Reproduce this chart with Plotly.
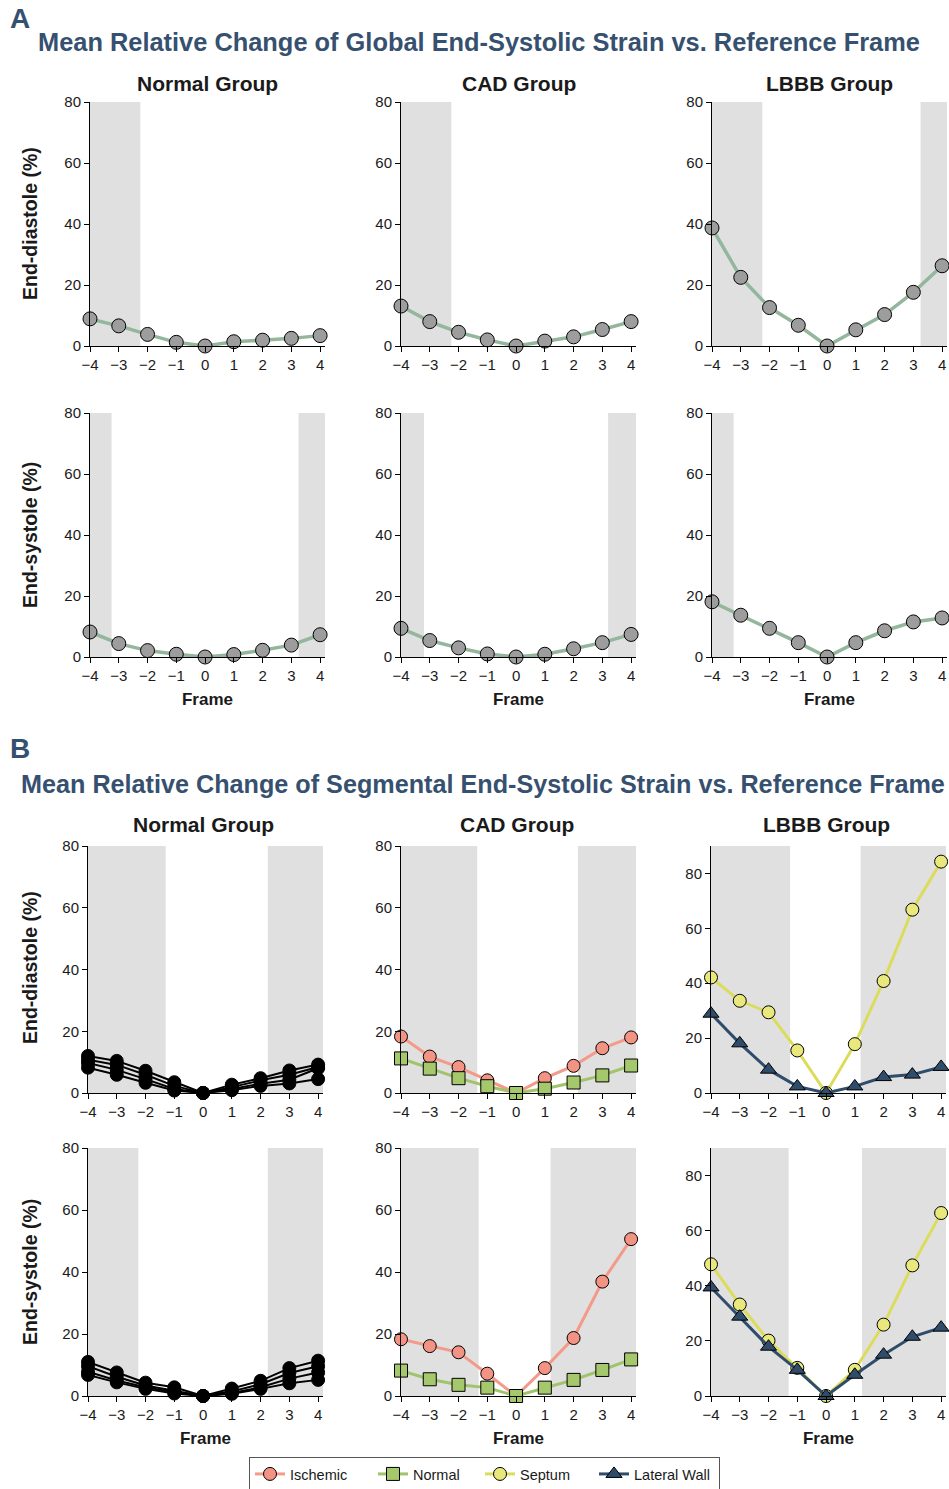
import plotly.graph_objects as go

# ---------------- data ----------------
FRAMES = [-4, -3, -2, -1, 0, 1, 2, 3, 4]
X_TICKS = [-4, -3, -2, -1, 0, 1, 2, 3, 4]
Y_TICKS = [0, 20, 40, 60, 80]
GROUPS = ["Normal Group", "CAD Group", "LBBB Group"]

# A: global strain, mean relative change (%)
A_ED_NORMAL = [8.9, 6.6, 3.8, 1.2, 0.0, 1.4, 1.9, 2.5, 3.4]
A_ED_CAD = [13.1, 8.0, 4.5, 2.0, 0.0, 1.6, 3.0, 5.4, 8.0]
A_ED_LBBB = [38.7, 22.5, 12.6, 6.8, 0.0, 5.3, 10.3, 17.6, 26.3]
A_ES_NORMAL = [8.2, 4.4, 2.1, 0.9, 0.0, 0.8, 2.2, 3.9, 7.3]
A_ES_CAD = [9.4, 5.4, 3.0, 1.0, 0.0, 0.9, 2.7, 4.7, 7.4]
A_ES_LBBB = [18.1, 13.7, 9.4, 4.7, 0.0, 4.7, 8.6, 11.5, 12.8]

# B: segmental strain, normal group (one line per segment)
B_ED_NORMAL_SEGS = [
    [12.0, 10.4, 7.2, 3.5, 0.0, 2.7, 4.8, 7.3, 9.2],
    [10.8, 9.1, 5.9, 2.3, 0.0, 1.9, 4.1, 5.9, 8.4],
    [9.7, 7.5, 4.5, 1.3, 0.0, 1.3, 3.0, 4.3, 8.0],
    [8.2, 5.9, 3.3, 0.8, 0.0, 0.9, 2.3, 3.1, 4.5],
]
B_ES_NORMAL_SEGS = [
    [11.0, 7.6, 4.3, 2.8, 0.0, 2.4, 4.9, 9.0, 11.4],
    [9.6, 6.2, 3.4, 1.8, 0.0, 1.5, 3.8, 7.4, 9.6],
    [7.8, 5.0, 2.8, 1.2, 0.0, 1.0, 2.8, 5.6, 7.6],
    [6.8, 4.4, 2.3, 0.8, 0.0, 0.7, 2.3, 4.1, 5.2],
]
# B: CAD group
B_ED_CAD_ISCHEMIC = [18.3, 11.8, 8.4, 4.1, 0.0, 4.8, 8.8, 14.5, 18.0]
B_ED_CAD_NORMAL = [11.2, 7.9, 4.8, 2.2, 0.0, 1.4, 3.4, 5.7, 8.9]
B_ES_CAD_ISCHEMIC = [18.3, 16.1, 14.1, 7.2, 0.0, 9.0, 18.7, 36.9, 50.6]
B_ES_CAD_NORMAL = [8.2, 5.4, 3.6, 2.7, 0.0, 2.7, 5.2, 8.4, 11.8]
# B: LBBB group
B_ED_LBBB_SEPTUM = [42.1, 33.6, 29.4, 15.5, 0.0, 17.8, 40.8, 66.8, 84.3]
B_ED_LBBB_LATERAL = [28.9, 18.1, 8.5, 2.4, 0.0, 2.4, 5.8, 6.7, 9.5]
B_ES_LBBB_SEPTUM = [47.8, 33.2, 20.1, 10.2, 0.0, 9.5, 25.9, 47.4, 66.4]
B_ES_LBBB_LATERAL = [39.4, 28.8, 17.9, 9.5, 0.0, 7.7, 15.0, 21.5, 24.8]

# shaded frame windows per panel (row, col)
SHADE = {
    (0, 0): [(-4, -2.25)], (0, 1): [(-4, -2.25)], (0, 2): [(-4, -2.25), (3.25, 4.17)],
    (1, 0): [(-4, -3.25), (3.25, 4.17)], (1, 1): [(-4, -3.2), (3.2, 4.17)], (1, 2): [(-4, -3.25)],
    (2, 0): [(-4, -1.3), (2.25, 4.17)], (2, 1): [(-4, -1.35), (2.15, 4.17)], (2, 2): [(-4, -1.25), (1.2, 4.17)],
    (3, 0): [(-4, -2.25), (2.25, 4.17)], (3, 1): [(-4, -1.3), (1.2, 4.17)], (3, 2): [(-4, -1.3), (1.25, 4.17)],
}

# ---------------- styling ----------------
W, H = 949, 1489
FONT = "Liberation Sans, Arial, Helvetica, sans-serif"
TITLE_BLUE = "#36506f"
GLOBAL_LINE = "#93b69d"
GLOBAL_MARK = "#9d9d9d"
ISCH = "#f29383"
ISCH_LINE = "#f39a8a"
NORM_SEG = "#a6c86c"
NORM_SEG_LINE = "#a0c46a"
SEPT = "#e8e87c"
SEPT_LINE = "#dcdc5c"
LAT = "#2f4c6a"

COLS_PX = [
    [(90, 325), (401, 636), (712, 947)],
    [(90, 325), (401, 636), (712, 947)],
    [(88, 323), (401, 636), (711, 946)],
    [(88, 323), (401, 636), (711, 946)],
]
ROWS_PX = [(102, 346), (413, 657), (846, 1093), (1148, 1396)]
YMAX = [[80, 80, 80], [80, 80, 80], [80, 80, 90], [80, 80, 90]]

fig = go.Figure()


def ax_id(r, c):
    n = r * 3 + c + 1
    return ("" if n == 1 else str(n))


for r in range(4):
    for c in range(3):
        k = ax_id(r, c)
        x0, x1 = COLS_PX[r][c]
        y0, y1 = ROWS_PX[r]
        fig.layout["xaxis" + k] = dict(
            domain=[x0 / W, x1 / W], anchor="y" + k, range=[-4, 4.17],
            tickvals=X_TICKS, showline=True, linecolor="black", linewidth=1,
            ticks="outside", ticklen=5, tickcolor="black", showgrid=False,
            zeroline=False, tickfont=dict(size=15, color="#1a1a1a", family=FONT),
            fixedrange=True, automargin=False,
        )
        fig.layout["yaxis" + k] = dict(
            domain=[1 - y1 / H, 1 - y0 / H], anchor="x" + k, range=[0, YMAX[r][c]],
            tickvals=Y_TICKS, showline=True, linecolor="black", linewidth=1,
            ticks="outside", ticklen=5, tickcolor="black", showgrid=False,
            zeroline=False, tickfont=dict(size=15, color="#1a1a1a", family=FONT),
            fixedrange=True, automargin=False,
        )
        if r in (1, 3):
            fig.layout["xaxis" + k].title = dict(
                text="<b>Frame</b>", font=dict(size=17, color="#1a1a1a", family=FONT), standoff=10)
        for a, b in SHADE[(r, c)]:
            fig.add_shape(type="rect", xref="x" + k, yref="y" + k + " domain",
                          x0=a, x1=b, y0=0, y1=1, fillcolor="#e0e0e0",
                          line=dict(width=0), layer="below")


def add_line(r, c, y, line_color, mark_color, symbol="circle", name=None, legend=False,
             size=13, lw=3, lwidth=None):
    k = ax_id(r, c)
    fig.add_trace(go.Scatter(
        x=FRAMES, y=y, mode="lines+markers", xaxis="x" + k, yaxis="y" + k,
        line=dict(color=line_color, width=lw),
        marker=dict(color=mark_color, size=size, symbol=symbol, line=dict(color="black", width=1)),
        name=name, showlegend=legend, cliponaxis=False, legendwidth=lwidth,
    ))


# A panels
for c, ys in enumerate([A_ED_NORMAL, A_ED_CAD, A_ED_LBBB]):
    add_line(0, c, ys, GLOBAL_LINE, GLOBAL_MARK, size=14, lw=3.5)
for c, ys in enumerate([A_ES_NORMAL, A_ES_CAD, A_ES_LBBB]):
    add_line(1, c, ys, GLOBAL_LINE, GLOBAL_MARK, size=14, lw=3.5)

# B panels: normal group segments
for seg in B_ED_NORMAL_SEGS:
    add_line(2, 0, seg, "black", "black", size=13, lw=2)
for seg in B_ES_NORMAL_SEGS:
    add_line(3, 0, seg, "black", "black", size=13, lw=2)

# B panels: CAD group
add_line(2, 1, B_ED_CAD_ISCHEMIC, ISCH_LINE, ISCH, name="Ischemic", legend=True, lwidth=78)
add_line(2, 1, B_ED_CAD_NORMAL, NORM_SEG_LINE, NORM_SEG, symbol="square", name="Normal",
         legend=True, lwidth=62)
add_line(3, 1, B_ES_CAD_ISCHEMIC, ISCH_LINE, ISCH)
add_line(3, 1, B_ES_CAD_NORMAL, NORM_SEG_LINE, NORM_SEG, symbol="square")

# B panels: LBBB group
add_line(2, 2, B_ED_LBBB_SEPTUM, SEPT_LINE, SEPT, name="Septum", legend=True, lwidth=69)
add_line(2, 2, B_ED_LBBB_LATERAL, LAT, LAT, symbol="triangle-up", name="Lateral Wall",
         legend=True, size=14, lwidth=80)
add_line(3, 2, B_ES_LBBB_SEPTUM, SEPT_LINE, SEPT)
add_line(3, 2, B_ES_LBBB_LATERAL, LAT, LAT, symbol="triangle-up", size=14)

# ---------------- text ----------------
ann = []


def txt(text, x_px, y_px, size, color="#1a1a1a", xanchor="center", yanchor="middle", angle=0):
    ann.append(dict(text=text, x=x_px / W, y=1 - y_px / H, xref="paper", yref="paper",
                    showarrow=False, xanchor=xanchor, yanchor=yanchor, textangle=angle,
                    font=dict(size=size, color=color, family=FONT)))


txt("<b>A</b>", 8, 18, 28, TITLE_BLUE, xanchor="left")
txt("<b>Mean Relative Change of Global End-Systolic Strain vs. Reference Frame</b>", 479, 42, 25.4, TITLE_BLUE)
txt("<b>B</b>", 8, 748, 28, TITLE_BLUE, xanchor="left")
txt("<b>Mean Relative Change of Segmental End-Systolic Strain vs. Reference Frame</b>", 483, 784, 25.2, TITLE_BLUE)

for c, g in enumerate(GROUPS):
    xa, xb = COLS_PX[0][c]
    txt("<b>" + g + "</b>", (xa + xb) / 2, 83, 21)
    xa, xb = COLS_PX[2][c]
    txt("<b>" + g + "</b>", (xa + xb) / 2 - 2, 824, 21)

txt("<b>End-diastole (%)</b>", 30, 224, 19.5, angle=-90)
txt("<b>End-systole (%)</b>", 30, 535, 19.5, angle=-90)
txt("<b>End-diastole (%)</b>", 30, 968, 19.5, angle=-90)
txt("<b>End-systole (%)</b>", 30, 1272, 19.5, angle=-90)

fig.update_layout(
    width=W, height=H, margin=dict(l=0, r=0, t=0, b=0, autoexpand=False),
    paper_bgcolor="white", plot_bgcolor="white",
    annotations=ann, font=dict(family=FONT),
    legend=dict(orientation="h", x=249 / W, y=1 - 1457 / H, xanchor="left", yanchor="top",
                bordercolor="#555555", borderwidth=1, font=dict(size=14.5, color="#1a1a1a", family=FONT),
                itemwidth=30, tracegroupgap=0),
)

fig.write_html("out.html")
